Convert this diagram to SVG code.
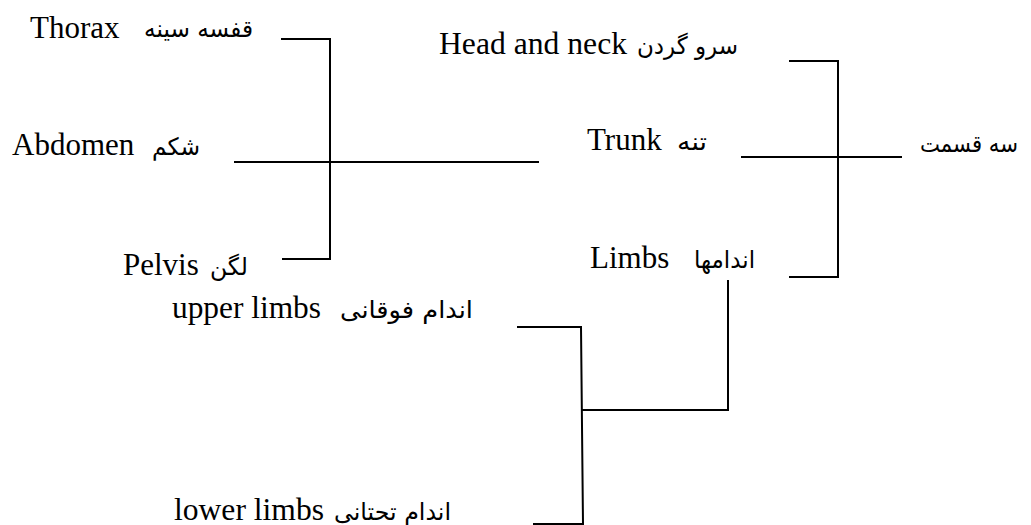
<svg xmlns="http://www.w3.org/2000/svg" width="1031" height="525" viewBox="0 0 1031 525">
<style>
.en{font-family:"Liberation Serif","Times New Roman",serif;font-size:31px;fill:#000}
.fa{font-family:"DejaVu Sans",sans-serif;font-size:24px;fill:#000}
.ln{stroke:#000;stroke-width:2;fill:none}
</style>
<rect width="1031" height="525" fill="#fff"/>
<g id="connectors">
<polyline class="ln" points="281,39 330,39 330,259 282,259"/>
<line class="ln" x1="234" y1="162" x2="539" y2="162"/>
<polyline class="ln" points="789,61 838,61 838,277 789,277"/>
<line class="ln" x1="741" y1="157" x2="902" y2="157"/>
<polyline class="ln" points="728,280 728,410 582,410"/>
<polyline class="ln" points="517,327 581,327 583,524 533,524"/>
</g>
<g id="root"><text class="fa" x="920" y="152" textLength="98" lengthAdjust="spacingAndGlyphs">سه قسمت</text></g>
<g id="head"><text class="en" x="439" y="54" textLength="188" lengthAdjust="spacingAndGlyphs">Head and neck</text><text class="fa" x="637" y="54" textLength="101" lengthAdjust="spacingAndGlyphs">سرو گردن</text></g>
<g id="trunk"><text class="en" x="587" y="150">Trunk</text><text class="fa" x="677" y="150" textLength="30" lengthAdjust="spacingAndGlyphs">تنه</text></g>
<g id="limbs"><text class="en" x="590" y="268">Limbs</text><text class="fa" x="694" y="268" textLength="61" lengthAdjust="spacingAndGlyphs">اندامها</text></g>
<g id="thorax"><text class="en" x="30" y="38">Thorax</text><text class="fa" x="144" y="37" textLength="109" lengthAdjust="spacingAndGlyphs">قفسه سینه</text></g>
<g id="abdomen"><text class="en" x="12" y="155">Abdomen</text><text class="fa" x="152" y="155" textLength="48" lengthAdjust="spacingAndGlyphs">شکم</text></g>
<g id="pelvis"><text class="en" x="123" y="275">Pelvis</text><text class="fa" x="210" y="275" textLength="38" lengthAdjust="spacingAndGlyphs">لگن</text></g>
<g id="upper"><text class="en" x="172" y="318" textLength="149" lengthAdjust="spacingAndGlyphs">upper limbs</text><text class="fa" x="340" y="318" textLength="133" lengthAdjust="spacingAndGlyphs">اندام فوقانی</text></g>
<g id="lower"><text class="en" x="174" y="520" textLength="150" lengthAdjust="spacingAndGlyphs">lower limbs</text><text class="fa" x="334" y="520" textLength="117" lengthAdjust="spacingAndGlyphs">اندام تحتانی</text></g>
</svg>
